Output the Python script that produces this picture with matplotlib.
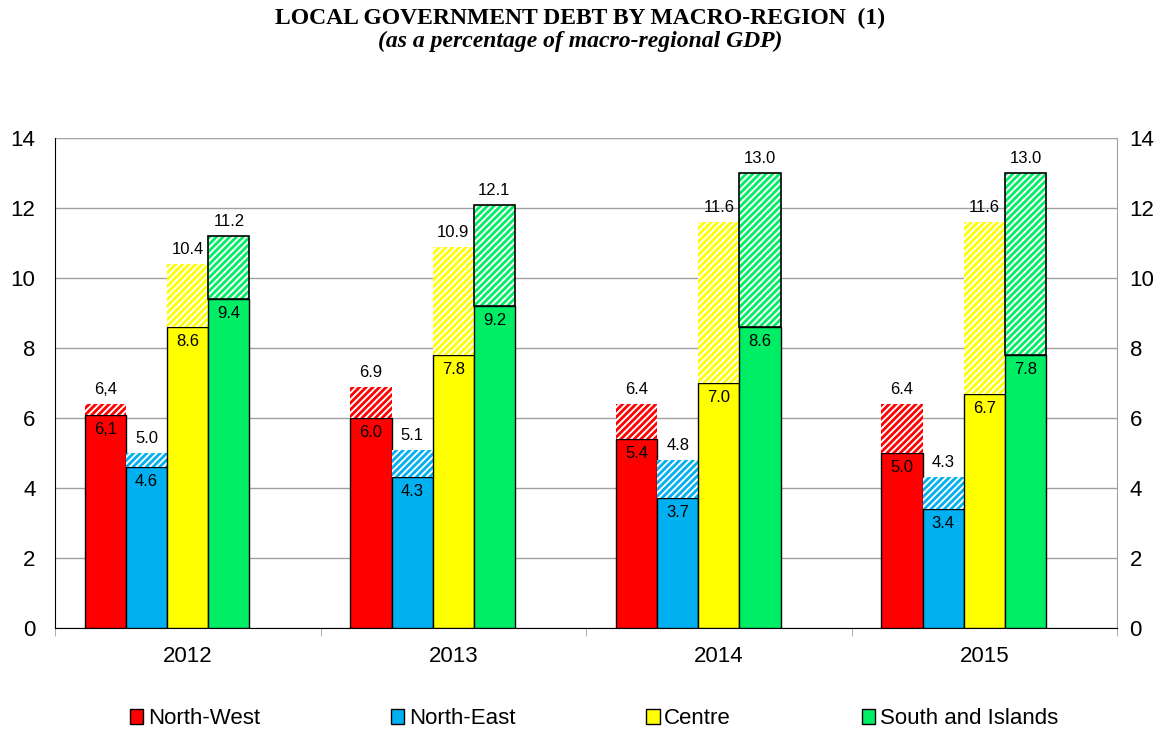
import numpy as np
import matplotlib
matplotlib.use("Agg")
import matplotlib.pyplot as plt
from matplotlib.patches import Patch

plt.rcParams['font.family'] = ['Liberation Sans', 'DejaVu Sans']
plt.rcParams['hatch.linewidth'] = 2.0

years = ['2012', '2013', '2014', '2015']
regions = ['North-West', 'North-East', 'Centre', 'South and Islands']
colors = ['#ff0000', '#00b0f0', '#ffff00', '#00ee66']

# lower (solid) part and total height of each bar
base = {
    'North-West':        [6.1, 6.0, 5.4, 5.0],
    'North-East':        [4.6, 4.3, 3.7, 3.4],
    'Centre':            [8.6, 7.8, 7.0, 6.7],
    'South and Islands': [9.4, 9.2, 8.6, 7.8],
}
total = {
    'North-West':        [6.4, 6.9, 6.4, 6.4],
    'North-East':        [5.0, 5.1, 4.8, 4.3],
    'Centre':            [10.4, 10.9, 11.6, 11.6],
    'South and Islands': [11.2, 12.1, 13.0, 13.0],
}
base_lbl = {
    'North-West':        ['6,1', '6.0', '5.4', '5.0'],
    'North-East':        ['4.6', '4.3', '3.7', '3.4'],
    'Centre':            ['8.6', '7.8', '7.0', '6.7'],
    'South and Islands': ['9.4', '9.2', '8.6', '7.8'],
}
total_lbl = {
    'North-West':        ['6,4', '6.9', '6.4', '6.4'],
    'North-East':        ['5.0', '5.1', '4.8', '4.3'],
    'Centre':            ['10.4', '10.9', '11.6', '11.6'],
    'South and Islands': ['11.2', '12.1', '13.0', '13.0'],
}

fig = plt.figure(figsize=(11.6, 7.35), dpi=100)
ax = fig.add_axes([0.0474, 0.1456, 0.9156, 0.6666])

x = np.arange(len(years))
w = 0.155
for k, reg in enumerate(regions):
    xs = x + (k - 2) * w
    b = np.array(base[reg])
    t = np.array(total[reg])
    ax.bar(xs, b, w, color=colors[k], edgecolor='black', lw=1, zorder=3)
    # hatched part on top of the solid one
    ax.bar(xs, t - b, w, bottom=b, facecolor='white', edgecolor=colors[k],
           hatch='/////', lw=0, zorder=3)
    if reg == 'South and Islands':
        ax.bar(xs, t - b, w, bottom=b, fill=False, edgecolor='black', lw=1.2, zorder=4)
    for i in range(len(years)):
        ax.text(xs[i], b[i] - 0.2, base_lbl[reg][i], ha='center', va='top',
                fontsize=12, zorder=5)
        ax.text(xs[i], t[i] + 0.2, total_lbl[reg][i], ha='center', va='bottom',
                fontsize=12, zorder=5)

ax.set_xlim(-0.5, len(years) - 0.5)
ax.set_ylim(0, 14)
ax.set_yticks(range(0, 15, 2))
ax.yaxis.grid(True, color='#a0a0a0', lw=1, zorder=0)
ax.tick_params(axis='y', length=0, labelsize=16, pad=14)
ax.set_xticks(x)
ax.set_xticklabels(years, fontsize=16)
ax.tick_params(axis='x', length=0, pad=13)
ax.set_xticks(np.arange(-0.5, len(years)), minor=True)
ax.tick_params(axis='x', which='minor', length=6, color='#a0a0a0')

ax.spines['top'].set_visible(False)
ax.spines['right'].set_color('#a0a0a0')
ax.spines['left'].set_color('black')
ax.spines['bottom'].set_color('black')

ax2 = ax.twinx()
ax2.set_ylim(0, 14)
ax2.set_yticks(range(0, 15, 2))
ax2.tick_params(axis='y', length=0, labelsize=16, pad=9)
for s in ax2.spines.values():
    s.set_visible(False)

fig.text(0.5, 0.975, 'LOCAL GOVERNMENT DEBT BY MACRO-REGION  (1)', ha='center', va='center',
         fontsize=17, fontweight='bold', family='Liberation Serif')
fig.text(0.5, 0.943, '(as a percentage of macro-regional GDP)', ha='center', va='center',
         fontsize=17, fontweight='bold', style='italic', family='Liberation Serif')

handles = [Patch(facecolor=c, edgecolor='black', lw=1) for c in colors]
fig.legend(handles, regions, loc='center', bbox_to_anchor=(0.512, 0.022), ncol=4,
           frameon=False, fontsize=16, handlelength=0.6, handleheight=0.6,
           handletextpad=0.2, columnspacing=5.9)

fig.savefig('out.png', dpi=100)
